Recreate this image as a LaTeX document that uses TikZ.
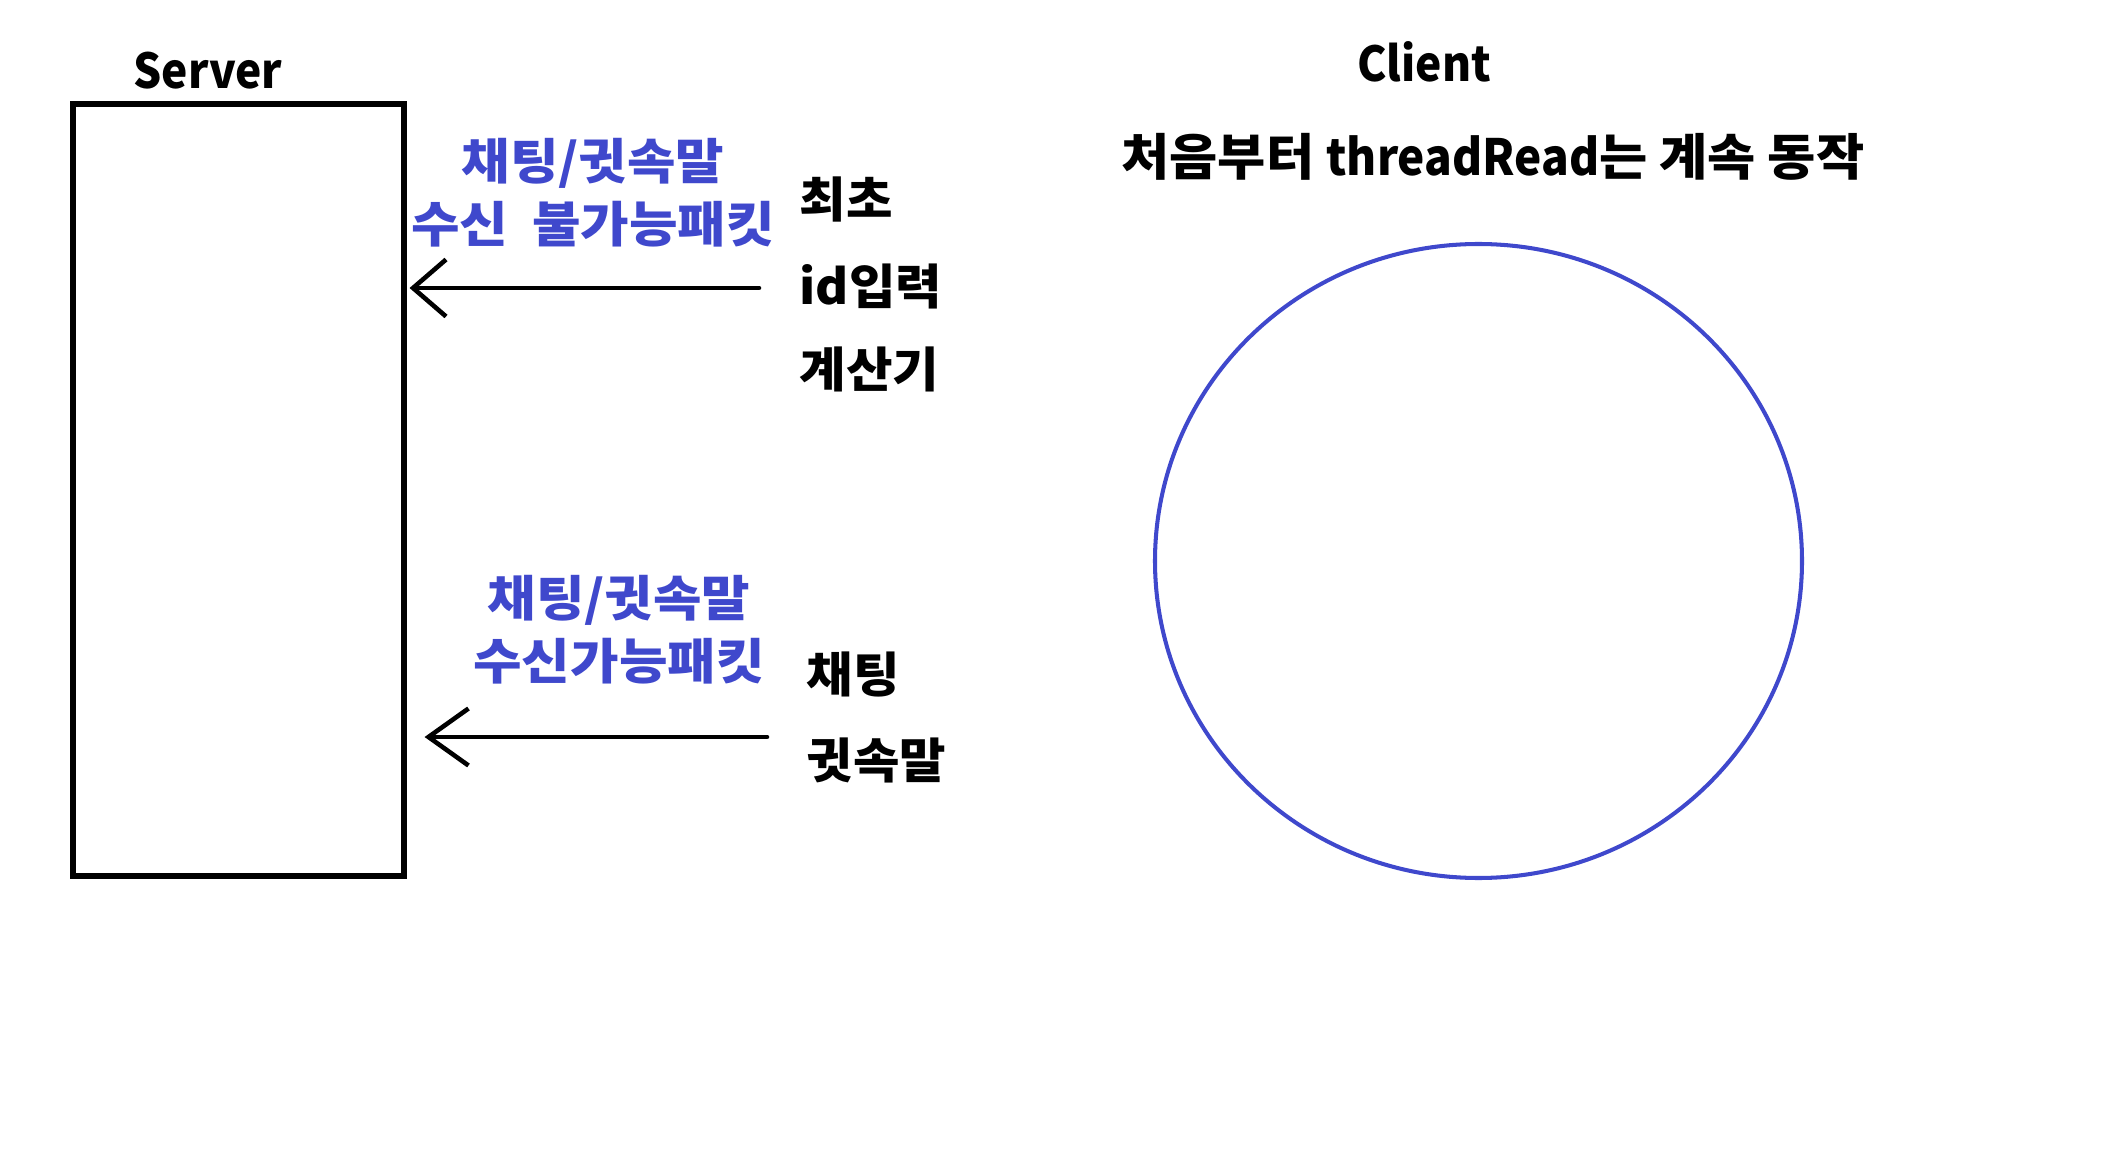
\documentclass[tikz,border=0pt]{standalone}
\usepackage{fontspec}
\setmainfont{Noto Sans CJK KR}[FakeStretch=1.05]
\newfontfamily\latinfont{Noto Sans CJK KR}[FakeStretch=0.92]
\newfontfamily\bluefont{Noto Sans CJK KR}[FakeStretch=1.08]
\usetikzlibrary{arrows.meta}
\definecolor{paintblue}{RGB}{63,72,204}
\tikzset{
    lbl/.style={font=\bfseries\fontsize{13.7}{17.9}\selectfont, inner sep=0pt},
    title/.style={font=\latinfont\bfseries\fontsize{13.7}{17.9}\selectfont, inner sep=0pt},
    bluelbl/.style={font=\bluefont\bfseries\fontsize{13.9}{17.9}\selectfont, inner sep=0pt, text=paintblue, align=center},
    msg/.style={line width=1.3pt, line cap=round,
        -{Straight Barb[length=0.33cm, width=0.57cm, line width=1.3pt]}},
}
\begin{document}
\begin{tikzpicture}
    \useasboundingbox (0,0) rectangle (21.06,11.68);
    % server
    \node[draw, line width=1.45pt, minimum width=3.31cm, minimum height=7.72cm, inner sep=0pt] (server) at (2.385,6.78) {};
    \node[title] (servername) at (2.08,10.97) {Server};
    % packets before login
    \node[bluelbl] (blockedpkt) at (5.93,9.755) {채팅/귓속말\\수신~~불가능패킷};
    \node[lbl, anchor=west] (first) at (7.99,9.69) {최초};
    \node[lbl, anchor=west] (idin) at (7.99,8.82) {id입력};
    \node[lbl, anchor=west] (calc) at (7.99,7.99) {계산기};
    \coordinate (a1) at (7.59,8.80);
    \draw[msg] (a1) -- ([xshift=0.03cm]a1 -| server.east);
    % packets after login
    \node[bluelbl] (allowedpkt) at (6.19,5.385) {채팅/귓속말\\수신가능패킷};
    \node[lbl, anchor=west] (chat) at (8.06,4.94) {채팅};
    \node[lbl, anchor=west] (whisper) at (8.06,4.08) {귓속말};
    \coordinate (a2) at (7.67,4.31);
    \draw[msg, -{Straight Barb[length=0.40cm, width=0.57cm, line width=1.3pt]}] (a2) -- ([xshift=0.18cm]a2 -| server.east);
    % client
    \node[title] (clientname) at (14.24,11.06) {Client};
    \node[lbl, font=\bfseries\fontsize{14.2}{17.9}\selectfont] (clientnote) at (14.93,10.11) {처음부터 {\latinfont threadRead}는 계속 동작};
    \draw[paintblue, line width=1.15pt] (14.785,6.07) ellipse [x radius=3.235, y radius=3.17];
\end{tikzpicture}
\end{document}
